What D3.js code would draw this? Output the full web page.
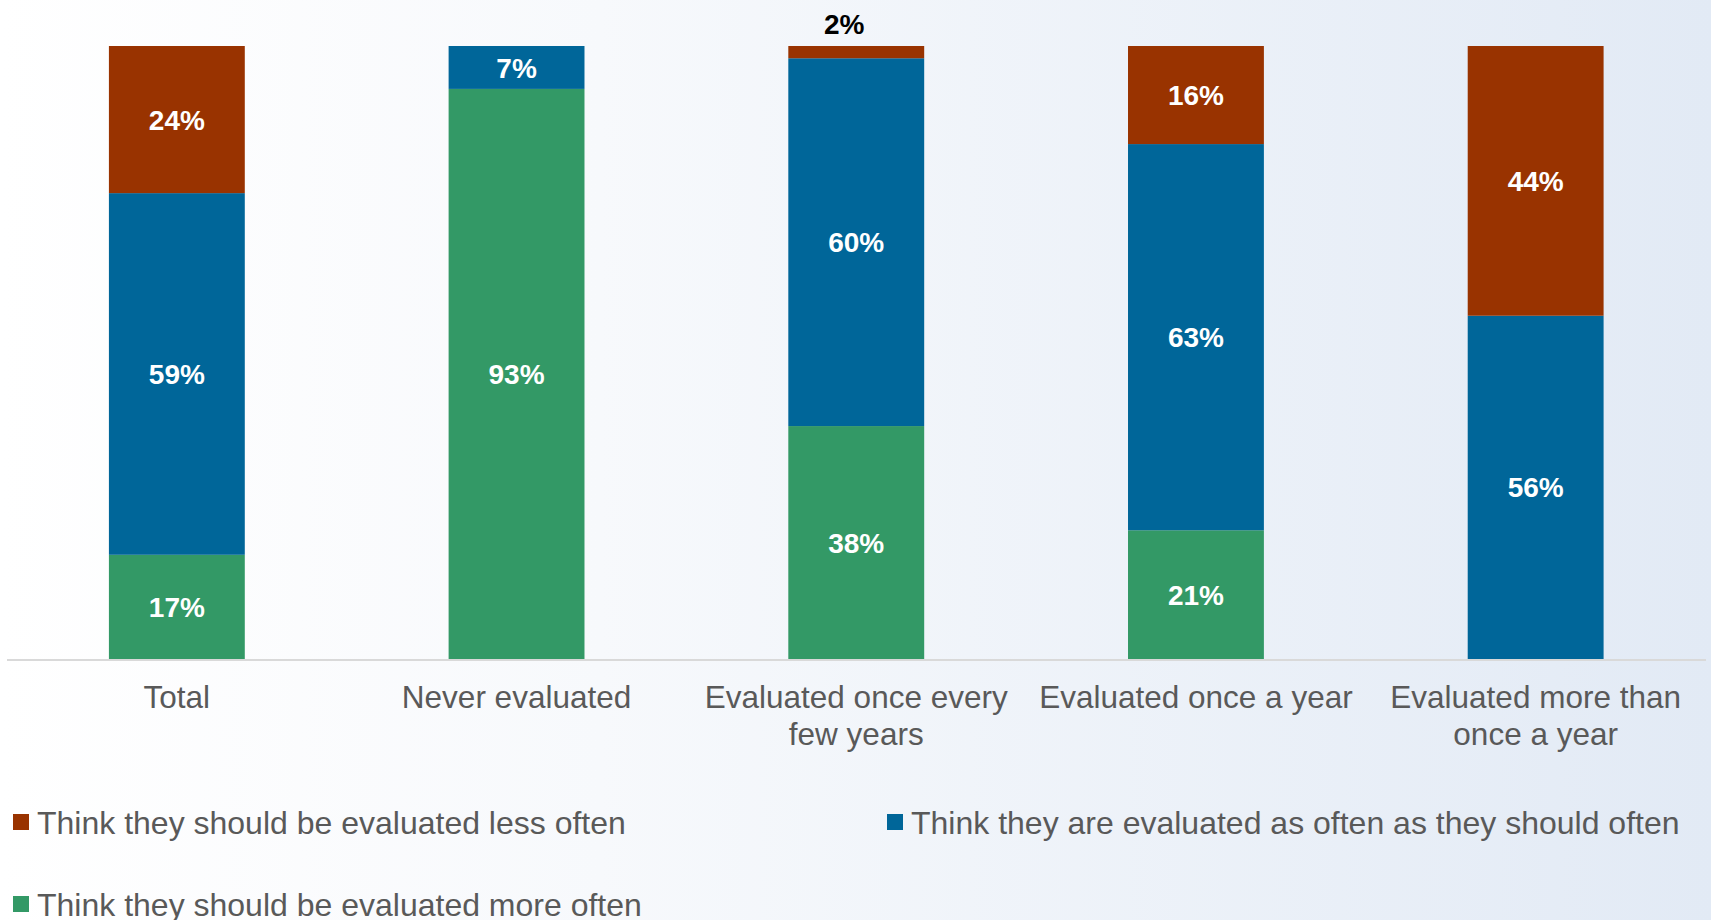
<!DOCTYPE html>
<html>
<head>
<meta charset="utf-8">
<script src="https://cdn.jsdelivr.net/npm/d3@7"></script>
<style>
  html, body { margin: 0; padding: 0; }
  body { width: 1711px; height: 920px; overflow: hidden; }
  svg { display: block; font-family: "Liberation Sans", Arial, sans-serif; }
</style>
</head>
<body>
<svg id="chart" width="1711" height="920"></svg>
<script>
const categories = [
  ["Total"],
  ["Never evaluated"],
  ["Evaluated once every", "few years"],
  ["Evaluated once a year"],
  ["Evaluated more than", "once a year"]
];
const seriesNames = [
  "Think they should be evaluated more often",
  "Think they are evaluated as often as they should often",
  "Think they should be evaluated less often"
];
const moreOften = [17, 93, 38, 21, 0];
const asOften   = [59, 7, 60, 63, 56];
const lessOften = [24, 0, 2, 16, 44];
const colors = ["#339966", "#006699", "#993300"];

const W = 1711, H = 920;
const svg = d3.select("#chart");

// background gradient
const defs = svg.append("defs");
const grad = defs.append("linearGradient").attr("id", "bg")
  .attr("x1", "0%").attr("y1", "0%").attr("x2", "100%").attr("y2", "0%");
grad.append("stop").attr("offset", "0%").attr("stop-color", "#ffffff");
grad.append("stop").attr("offset", "35%").attr("stop-color", "#f7f9fc");
grad.append("stop").attr("offset", "100%").attr("stop-color", "#e2eaf5");
svg.append("rect").attr("width", W).attr("height", H).attr("fill", "url(#bg)");

const keys = ["more", "as", "less"];
const data = categories.map((c, i) => ({
  key: c.join(" "), lines: c, more: moreOften[i], as: asOften[i], less: lessOften[i]
}));

const x = d3.scaleBand().domain(data.map(d => d.key)).range([7, 1705.5]).paddingInner(0.6).paddingOuter(0.3);
const y = d3.scaleLinear().domain([0, 100]).range([659, 46]);

const stack = d3.stack().keys(keys);
const series = stack(data);

const g = svg.append("g");
series.forEach((s, si) => {
  g.selectAll(null).data(s).join("rect")
    .attr("x", d => x(d.data.key))
    .attr("width", x.bandwidth())
    .attr("y", d => y(d[1]))
    .attr("height", d => y(d[0]) - y(d[1]))
    .attr("fill", colors[si]);
});

// data labels
series.forEach((s, si) => {
  g.selectAll(null).data(s.filter(d => d[1] - d[0] > 0)).join("text")
    .attr("x", d => x(d.data.key) + x.bandwidth() / 2 - ((d[1] - d[0]) < 4 ? 12 : 0))
    .attr("y", d => {
      const v = d[1] - d[0];
      if (v < 4) return y(d[1]) - 22;
      return (y(d[0]) + y(d[1])) / 2;
    })
    .attr("dy", "0.36em")
    .attr("text-anchor", "middle")
    .attr("font-weight", "bold")
    .attr("font-size", "28px")
    .attr("fill", d => (d[1] - d[0]) < 4 ? "#000000" : "#ffffff")
    .text(d => (d[1] - d[0]) + "%");
});

// axis line
svg.append("line").attr("x1", 7).attr("x2", 1706).attr("y1", 660).attr("y2", 660)
  .attr("stroke", "#d9d9d9").attr("stroke-width", 2);

// category labels
const catG = svg.append("g");
data.forEach(d => {
  const t = catG.append("text")
    .attr("x", x(d.key) + x.bandwidth() / 2)
    .attr("y", 697)
    .attr("text-anchor", "middle")
    .attr("font-size", "31.5px")
    .attr("fill", "#595959");
  d.lines.forEach((ln, li) => {
    t.append("tspan").attr("x", x(d.key) + x.bandwidth() / 2)
      .attr("y", 697 + li * 37).attr("dy", "0.36em").text(ln);
  });
});

// legend
const legendItems = [
  { name: seriesNames[2], color: colors[2], x: 13, y: 822 },
  { name: seriesNames[1], color: colors[1], x: 887, y: 822 },
  { name: seriesNames[0], color: colors[0], x: 13, y: 904 }
];
const lg = svg.append("g");
legendItems.forEach(it => {
  lg.append("rect").attr("x", it.x).attr("y", it.y - 8).attr("width", 16).attr("height", 16).attr("fill", it.color);
  lg.append("text").attr("x", it.x + 24).attr("y", it.y).attr("dy", "0.36em")
    .attr("font-size", "32px").attr("fill", "#595959").text(it.name);
});
</script>
</body>
</html>
